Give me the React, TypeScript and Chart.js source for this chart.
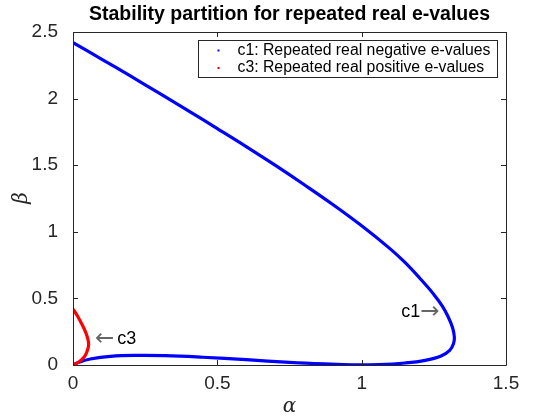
import React, { useEffect, useRef } from "react";
import { Chart, registerables } from "chart.js";

Chart.register(...registerables);

// c1: repeated real negative e-values (alpha, beta) along the curve
const c1Alpha = [0.0, 0.1, 0.2, 0.3, 0.4, 0.5, 0.6, 0.7, 0.8, 0.9, 1.0, 1.1, 1.15, 1.2, 1.25, 1.28, 1.3, 1.315, 1.321, 1.318, 1.305, 1.275, 1.22, 1.15, 1.06, 0.97, 0.87, 0.75, 0.6, 0.45, 0.32, 0.22, 0.13, 0.06, 0.02, 0.0];
const c1Beta = [2.42, 2.295, 2.168, 2.039, 1.908, 1.775, 1.64, 1.5, 1.355, 1.205, 1.045, 0.87, 0.77, 0.655, 0.53, 0.44, 0.36, 0.28, 0.21, 0.16, 0.11, 0.068, 0.035, 0.015, 0.003, 0.001, 0.008, 0.02, 0.04, 0.058, 0.07, 0.072, 0.065, 0.045, 0.02, 0.0];

// c3: repeated real positive e-values
const c3Alpha = [0.0, 0.015, 0.03, 0.043, 0.052, 0.054, 0.05, 0.042, 0.03, 0.015, 0.0];
const c3Beta = [0.42, 0.37, 0.31, 0.25, 0.19, 0.15, 0.11, 0.07, 0.04, 0.015, 0.0];

const xTicks = [0, 0.5, 1, 1.5];
const yTicks = [0, 0.5, 1, 1.5, 2, 2.5];
const titleText = "Stability partition for repeated real e-values";
const legendLabels = ["c1: Repeated real negative e-values", "c3: Repeated real positive e-values"];
const seriesColors = ["#0000ff", "#ff0000"];
const xLabel = "\u03b1";
const yLabel = "\u03b2";
const noteTexts = ["c1", "c3"];
const noteAlpha = [1.27, 0.076];
const noteBeta = [0.4, 0.195];

const SANS = "'Liberation Sans', Arial, Helvetica, sans-serif";
const SERIF = "'DejaVu Serif', 'Liberation Serif', serif";
const AXIS = "#262626";

const decor = {
  id: "decor",
  afterDraw(chart: any) {
    const { ctx, chartArea, scales } = chart;
    const { left, right, top, bottom } = chartArea;
    const x = scales.x;
    const y = scales.y;
    ctx.save();
    // box
    ctx.strokeStyle = AXIS;
    ctx.lineWidth = 1;
    ctx.beginPath();
    ctx.rect(Math.round(left) + 0.5, Math.round(top) + 0.5, Math.round(right - left), Math.round(bottom - top));
    ctx.stroke();
    // inside ticks
    const tl = 5;
    ctx.beginPath();
    xTicks.forEach((v) => {
      const px = Math.round(x.getPixelForValue(v)) + 0.5;
      ctx.moveTo(px, bottom);
      ctx.lineTo(px, bottom - tl);
      ctx.moveTo(px, top);
      ctx.lineTo(px, top + tl);
    });
    yTicks.forEach((v) => {
      const py = Math.round(y.getPixelForValue(v)) + 0.5;
      ctx.moveTo(left, py);
      ctx.lineTo(left + tl, py);
      ctx.moveTo(right, py);
      ctx.lineTo(right - tl, py);
    });
    ctx.stroke();

    // title
    ctx.fillStyle = "#000";
    ctx.font = `bold 19.5px ${SANS}`;
    ctx.textAlign = "center";
    ctx.textBaseline = "middle";
    ctx.fillText(titleText, (left + right) / 2, 15);

    // axis labels
    ctx.fillStyle = AXIS;
    ctx.font = `italic 20px ${SERIF}`;
    ctx.fillText(xLabel, (left + right) / 2, 407);
    ctx.save();
    ctx.translate(22, 198);
    ctx.rotate(-Math.PI / 2);
    ctx.fillText(yLabel, 0, 0);
    ctx.restore();

    // legend
    const lx = 198.5, ly = 40.5, lw = 299, lh = 37;
    ctx.fillStyle = "#fff";
    ctx.fillRect(lx, ly, lw, lh);
    ctx.strokeStyle = AXIS;
    ctx.strokeRect(lx, ly, lw, lh);
    ctx.font = `15.8px ${SANS}`;
    ctx.textAlign = "left";
    ctx.textBaseline = "middle";
    legendLabels.forEach((lab, i) => {
      const cy = ly + 10 + i * 17.5;
      ctx.fillStyle = seriesColors[i];
      ctx.fillRect(lx + 19, cy - 1, 2, 2);
      ctx.fillStyle = "#000";
      ctx.fillText(lab, lx + 39, cy);
    });

    // annotations
    ctx.textBaseline = "middle";
    const arrowFont = `23px 'DejaVu Sans', sans-serif`;
    const textFont = `18px ${SANS}`;
    // c1 ->
    {
      const ax = x.getPixelForValue(noteAlpha[0]);
      const ay = y.getPixelForValue(noteBeta[0]);
      ctx.textAlign = "right";
      ctx.font = arrowFont;
      ctx.fillStyle = "#666";
      ctx.fillText("\u2192", ax, ay);
      const aw = ctx.measureText("\u2192").width;
      ctx.font = textFont;
      ctx.fillStyle = "#000";
      ctx.fillText(noteTexts[0], ax - aw, ay);
    }
    // <- c3
    {
      const ax = x.getPixelForValue(noteAlpha[1]);
      const ay = y.getPixelForValue(noteBeta[1]);
      ctx.textAlign = "left";
      ctx.font = arrowFont;
      ctx.fillStyle = "#666";
      ctx.fillText("\u2190", ax, ay);
      const aw = ctx.measureText("\u2190").width + 3;
      ctx.font = textFont;
      ctx.fillStyle = "#000";
      ctx.fillText(noteTexts[1], ax + aw, ay);
    }
    ctx.restore();
  },
};

export default function App() {
  const ref = useRef<HTMLCanvasElement>(null);
  useEffect(() => {
    if (!ref.current) return;
    const c1 = c1Alpha.map((a, i) => ({ x: a, y: c1Beta[i] }));
    const c3 = c3Alpha.map((a, i) => ({ x: a, y: c3Beta[i] }));
    const chart = new Chart(ref.current, {
      type: "scatter",
      data: {
        datasets: [
          {
            label: legendLabels[0],
            data: c1,
            showLine: true,
            borderColor: seriesColors[0],
            backgroundColor: seriesColors[0],
            borderWidth: 3.2,
            pointRadius: 0,
            tension: 0.4,
            order: 2,
          },
          {
            label: legendLabels[1],
            data: c3,
            showLine: true,
            borderColor: seriesColors[1],
            backgroundColor: seriesColors[1],
            borderWidth: 3.2,
            pointRadius: 0,
            tension: 0.4,
            order: 1,
          },
        ],
      },
      options: {
        responsive: false,
        animation: false,
        layout: { padding: { top: 32, right: 54, left: 0, bottom: 0 } },
        plugins: { legend: { display: false }, tooltip: { enabled: false }, title: { display: false } },
        scales: {
          x: {
            type: "linear",
            min: 0,
            max: 1.5,
            afterBuildTicks: (s: any) => {
              s.ticks = xTicks.map((v) => ({ value: v }));
            },
            afterFit: (s: any) => {
              s.height = 55;
            },
            grid: { display: false, drawTicks: false },
            border: { display: false },
            ticks: {
              padding: 7,
              color: AXIS,
              font: { family: SANS, size: 19 },
              callback: (v: any) => String(v),
            },
          },
          y: {
            type: "linear",
            min: 0,
            max: 2.5,
            afterBuildTicks: (s: any) => {
              s.ticks = yTicks.map((v) => ({ value: v }));
            },
            afterFit: (s: any) => {
              s.width = 73;
            },
            grid: { display: false, drawTicks: false },
            border: { display: false },
            ticks: {
              padding: 15,
              color: AXIS,
              font: { family: SANS, size: 19 },
              callback: (v: any) => String(v),
            },
          },
        },
      },
      plugins: [decor],
    });
    return () => chart.destroy();
  }, []);
  return (
    <div style={{ position: "fixed", left: 0, top: 0, width: 560, height: 420, background: "#fff" }}>
      <canvas ref={ref} width={560} height={420} />
    </div>
  );
}
